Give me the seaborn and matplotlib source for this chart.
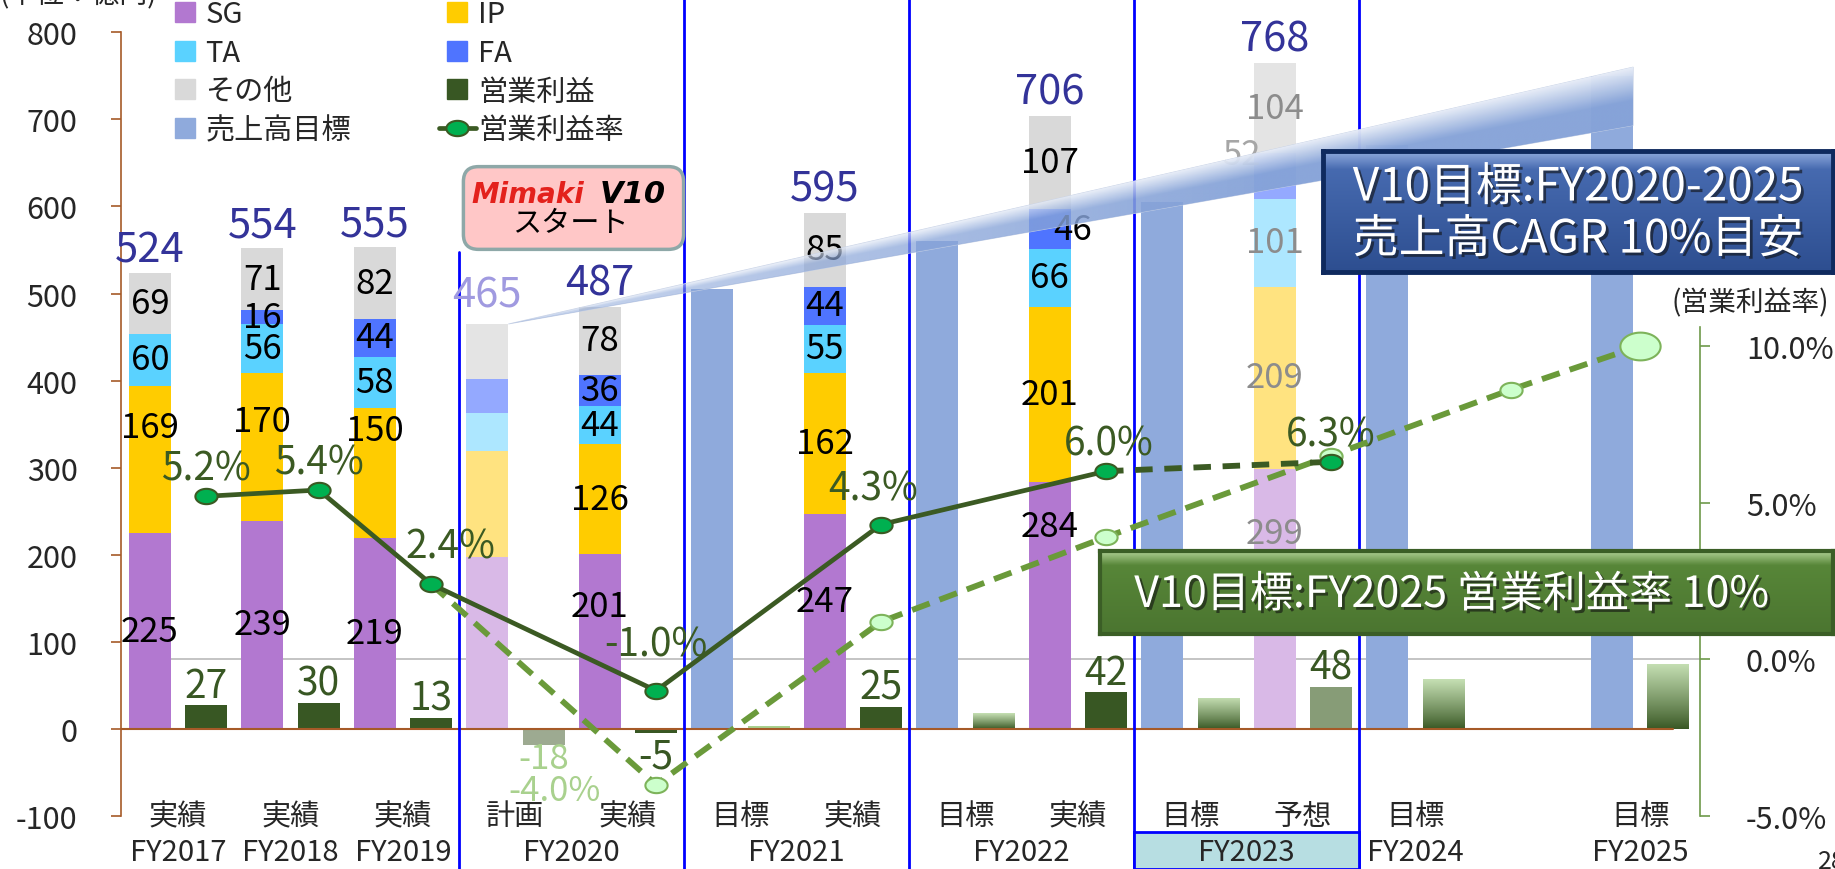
import matplotlib.pyplot as plt
import matplotlib.patheffects as pe
import numpy as np
import pandas as pd
import seaborn as sns
from matplotlib import transforms
from matplotlib.colors import to_rgb
from matplotlib.lines import Line2D
from matplotlib.patches import FancyBboxPatch, Polygon, Rectangle
from matplotlib.path import Path

# ---------------- data (億円 / %) ----------------
slot_labels = ["実績", "実績", "実績", "計画", "実績", "目標", "実績",
               "目標", "実績", "目標", "予想", "目標", "", "目標"]
year_labels = ["FY2017", "FY2018", "FY2019", "FY2020", "FY2021",
               "FY2022", "FY2023", "FY2024", "FY2025"]
year_first_slot = [0, 1, 2, 3, 5, 7, 9, 11, 13]
year_last_slot = [0, 1, 2, 4, 6, 8, 10, 11, 13]

seg_slots = [0, 1, 2, 3, 4, 6, 8, 10]
seg_status = ["実績", "実績", "実績", "計画", "実績", "実績", "実績", "予想"]
sg = [225, 239, 219, 197, 201, 247, 284, 299]
ip = [169, 170, 150, 122, 126, 162, 201, 209]
ta = [60, 56, 58, 44, 44, 55, 66, 101]
fa = [0, 16, 44, 39, 36, 44, 46, 52]
other = [69, 71, 82, 63, 78, 85, 107, 104]
sales_total = [524, 554, 555, 465, 487, 595, 706, 768]

target_slots = [5, 7, 9, 11, 13]
sales_target = [505, 560, 605, 670, 750]

profit_slots = [0, 1, 2, 3, 4, 5, 6, 7, 8, 9, 10, 11, 13]
profit_status = ["実績", "実績", "実績", "計画", "実績", "目標", "実績",
                 "目標", "実績", "目標", "予想", "目標", "目標"]
profit = [27, 30, 13, -18, -5, 3, 25, 18, 42, 36, 48, 57, 75]

rate_slots = [0, 1, 2, 4, 6, 8]
rate = [5.2, 5.4, 2.4, -1.0, 4.3, 6.0]
rate_fcst_slots = [8, 10]
rate_fcst = [6.0, 6.3]
rate_tgt_slots = [2, 4, 6, 8, 10, 12, 13]
rate_tgt = [2.4, -4.0, 1.2, 3.9, 6.5, 8.6, 10.0]

# V10 growth ribbon: from the FY2020 plan bar top to the FY2025 target
arrow_end_top = 760
arrow_end_bottom = 693

# ---------------- layout / style ----------------
BAR_W = 0.373
OFF = 0.25
tgt_dx = [OFF, OFF, OFF, OFF, OFF, -0.15, 0.0]
rate_label_off = [(0, 20), (0, 20), (14, 27), (0, 33), (-6, 26), (2, 20)]
seg_label_y = {(0, "IP"): 346, (1, "IP"): 353, (2, "IP"): 343, (4, "SG"): 141,
               (6, "SG"): 146, (8, "SG"): 233, (10, "SG"): 225, (10, "FA"): 660}
seg_label_dx = {(8, "FA"): 0.2, (10, "FA"): -0.3}
profit_label_dy = {3: -10, 4: -17}

seg_names = ["SG", "IP", "TA", "FA", "その他"]
seg_colors = {"SG": "#B278D0", "IP": "#FFCC00", "TA": "#5AD2FF",
              "FA": "#4F74FF", "その他": "#D9D9D9"}
seg_pale = {"SG": "#D9B9E7", "IP": "#FFE380", "TA": "#ADE7FF",
            "FA": "#94A9FF", "その他": "#E4E4E4"}
TARGET_BLUE = "#8FAADC"
PROFIT_DARK = "#385723"
LINE_DARK = "#3B5A23"
TGT_GREEN = "#6A9A3A"
LIGHT_GREEN = "#A9D18E"
BROWN = "#A65A28"
AXIS_GREEN = "#6E9A4A"
TOTAL_BLUE = "#333399"


def gradient_fill(ax, patch, extent, top_c, bot_c, power=1.0, zorder=2):
    t = np.linspace(0, 1, 256)[:, None] ** power
    c0 = np.array(to_rgb(bot_c))
    c1 = np.array(to_rgb(top_c))
    img = c0 + (c1 - c0) * t[..., None]
    im = ax.imshow(img, extent=extent, origin="lower", aspect="auto",
                   interpolation="bilinear", zorder=zorder)
    im.set_clip_path(patch)
    return im


def main():
    sns.set_style("white")
    plt.rcParams["font.family"] = ["Noto Sans CJK JP", "DejaVu Sans"]
    plt.rcParams["axes.unicode_minus"] = False

    fig = plt.figure(figsize=(18.35, 8.7), dpi=100)
    ax = fig.add_axes([0.0657, 0.0608, 0.9264 - 0.0657, 0.9618 - 0.0608])
    ax.patch.set_alpha(0)
    xmin, xmax = -0.511, 13.53

    # ----- stacked segment sales -----
    df = pd.DataFrame({"slot": seg_slots, "status": seg_status, "SG": sg, "IP": ip,
                       "TA": ta, "FA": fa, "その他": other, "total": sales_total})
    xs = df["slot"].to_numpy() - OFF
    bottom = np.zeros(len(df))
    for name in seg_names:
        vals = df[name].to_numpy()
        cols = [seg_colors[name] if s == "実績" else seg_pale[name] for s in df["status"]]
        ax.bar(xs, vals, BAR_W, bottom=bottom, color=cols, linewidth=0, zorder=2)
        for i in range(len(df)):
            v, s, slot = vals[i], df["status"][i], df["slot"][i]
            if v == 0 or s == "計画":
                continue
            key = (slot, name)
            y = seg_label_y.get(key, bottom[i] + v / 2)
            col = "black" if s == "実績" else ("#A6A6A6" if name == "FA" else "#8C8C8C")
            ax.text(xs[i] + seg_label_dx.get(key, 0), y, str(v), ha="center",
                    va="center", fontsize=25, color=col, zorder=4)
        bottom += vals

    for i in range(len(df)):
        plan = df["status"][i] == "計画"
        ax.annotate(str(df["total"][i]), (xs[i], bottom[i]),
                    xytext=(0, 21 if plan else 17), textcoords="offset points",
                    ha="center", va="center", fontsize=30,
                    color="#A09AE0" if plan else TOTAL_BLUE, zorder=4)

    # ----- sales targets -----
    ax.bar(np.array(target_slots) - OFF, sales_target, BAR_W, color=TARGET_BLUE,
           linewidth=0, zorder=2)

    # ----- operating profit -----
    for slot, st, v in zip(profit_slots, profit_status, profit):
        x = slot + OFF
        if st == "目標":
            if v < 10:
                ax.bar(x, v, BAR_W, color=LIGHT_GREEN, linewidth=0, zorder=2)
            else:
                bar = ax.bar(x, v, BAR_W, color="none", linewidth=0, zorder=2)[0]
                gradient_fill(ax, bar, [x - BAR_W / 2, x + BAR_W / 2, 0, v],
                              "#C6E0B4", PROFIT_DARK, power=0.9)
            continue
        color = {"実績": PROFIT_DARK, "計画": "#9DAA91", "予想": "#879C77"}[st]
        ax.bar(x, v, BAR_W, color=color, linewidth=0, zorder=2)
        dy = profit_label_dy.get(slot, 14)
        ax.annotate(str(v), (x, v), xytext=(0, dy), textcoords="offset points",
                    ha="center", va="center", fontsize=25 if st == "計画" else 28,
                    color=LIGHT_GREEN if st == "計画" else PROFIT_DARK, zorder=4)

    # ----- V10 growth ribbon -----
    i_plan = seg_status.index("計画")
    x0 = seg_slots[i_plan] - OFF + BAR_W / 2
    x1 = target_slots[-1] - OFF + BAR_W / 2
    y0 = sales_total[i_plan]
    gx, gy = np.meshgrid(np.linspace(x0, x1, 500), np.linspace(y0, arrow_end_top, 300))
    u = (gx - x0) / (x1 - x0)
    top = y0 + u * (arrow_end_top - y0)
    bot = y0 + u * (arrow_end_bottom - y0)
    v = np.clip((top - gy) / np.maximum(top - bot, 1e-6), 0, 1)
    w = np.clip(0.2 + 1.4 * v, 0, 1)[..., None]
    rgb = np.ones(3) * (1 - w) + np.array(to_rgb("#86A3D8")) * w
    alpha = np.clip(0.45 + 0.75 * u, 0, 0.97)[..., None]
    ribbon = Polygon([(x0, y0), (x1, arrow_end_top), (x1, arrow_end_bottom)],
                     closed=True, facecolor="none", edgecolor="#C8D2E6", lw=0.6, zorder=6)
    ax.add_patch(ribbon)
    im = ax.imshow(np.concatenate([rgb, alpha], axis=2),
                   extent=[x0, x1, y0, arrow_end_top], origin="lower", aspect="auto",
                   interpolation="bilinear", zorder=6)
    im.set_clip_path(ribbon)

    # ----- axes cosmetics -----
    ax.axhline(0, xmin=0, xmax=0.983, color=BROWN, lw=1.5, zorder=3)
    ax.set_xlim(xmin, xmax)
    ax.set_ylim(-100, 800)
    ax.set_xticks([])
    ax.set_yticks(np.arange(-100, 801, 100))
    ax.tick_params(axis="y", left=True, length=7, width=1.2, color=BROWN,
                   pad=24, labelsize=22)
    for side in ["top", "right", "bottom"]:
        ax.spines[side].set_visible(False)
    ax.spines["left"].set_color(BROWN)
    ax.spines["left"].set_linewidth(1.2)

    ax2 = ax.twinx()
    ax2.set_ylim(-5, 20)
    ax2.set_xlim(xmin, xmax)

    # 0% reference line, drawn under the bars
    ax.plot([-0.1, xmax], [0, 0], transform=ax2.transData, color="#BFBFBF",
            lw=1.3, zorder=1, clip_on=False)

    theta = np.linspace(0, 2 * np.pi, 61)
    ellipse = Path(np.column_stack([1.45 * np.cos(theta), np.sin(theta)]), closed=True)

    # target profit rate (dashed light green)
    tx = np.array(rate_tgt_slots) + np.array(tgt_dx)
    ax2.plot(tx, rate_tgt, color=TGT_GREEN, lw=4.2, dashes=(3.2, 1.8),
             marker=ellipse, ms=16, mfc="#CCFFCC", mec="#7DB35A", mew=1.5,
             markevery=list(range(1, len(tx) - 1)), zorder=4)
    ax2.plot(tx[-1], rate_tgt[-1], marker=ellipse, ms=29, mfc="#CCFFCC",
             mec="#7DB35A", mew=1.5, ls="none", zorder=4)
    ax2.annotate(f"{rate_tgt[1]:.1f}%", (tx[1], rate_tgt[1]), xytext=(-73, -4),
                 textcoords="offset points", ha="center", va="center",
                 fontsize=25, color=LIGHT_GREEN)

    # forecast segment (dashed dark)
    fx = np.array(rate_fcst_slots) + OFF
    ax2.plot(fx, rate_fcst, color=LINE_DARK, lw=4.2, dashes=(3, 2), zorder=5)
    ax2.plot(fx[-1], rate_fcst[-1], marker=ellipse, ms=16, mfc="#00B050",
             mec=LINE_DARK, mew=1.5, ls="none", zorder=6)
    ax2.annotate(f"{rate_fcst[-1]:.1f}%", (fx[-1], rate_fcst[-1]), xytext=(0, 20),
                 textcoords="offset points", ha="center", va="center",
                 fontsize=28, color=LINE_DARK)

    # actual profit rate (solid)
    rate_df = pd.DataFrame({"x": np.array(rate_slots) + OFF, "rate": rate})
    sns.lineplot(data=rate_df, x="x", y="rate", ax=ax2, color=LINE_DARK,
                 linewidth=3.4, marker=ellipse, markersize=16,
                 markerfacecolor="#00B050", markeredgecolor=LINE_DARK,
                 markeredgewidth=1.5, zorder=6, legend=False)
    for xv, rv, off in zip(rate_df["x"], rate, rate_label_off):
        ax2.annotate(f"{rv:.1f}%", (xv, rv), xytext=off, textcoords="offset points",
                     ha="center", va="center", fontsize=28, color=LINE_DARK, zorder=7)

    ax2.set_xlabel("")
    ax2.set_ylabel("")
    ax2.set_xlim(xmin, xmax)
    ax2.set_ylim(-5, 20)
    ax2.set_yticks([-5, 0, 5, 10])
    ax2.set_yticklabels([f"{t:.1f}%" for t in [-5, 0, 5, 10]])
    ax2.tick_params(axis="y", right=True, length=7, width=1.2, color=AXIS_GREEN,
                    pad=26, labelsize=22)
    for side in ["top", "left", "bottom"]:
        ax2.spines[side].set_visible(False)
    ax2.spines["right"].set_color(AXIS_GREEN)
    ax2.spines["right"].set_linewidth(1.2)
    ax2.spines["right"].set_bounds(-5, 10.6)

    # ----- category labels, separators, FY2023 highlight -----
    bt = transforms.blended_transform_factory(ax.transData, fig.transFigure)
    for s, lab in enumerate(slot_labels):
        if lab:
            ax.text(s, 0.061, lab, transform=bt, ha="center", va="center", fontsize=21)
    for lab, a, b in zip(year_labels, year_first_slot, year_last_slot):
        ax.text((a + b) / 2, 0.0195, lab, transform=bt, ha="center", va="center",
                fontsize=21, zorder=5)
    sep_x = [2.5, 4.5, 6.5, 8.5, 10.5]
    for sx in sep_x:
        y_top = 0.709 if sx == sep_x[0] else 1.0
        ax.plot([sx, sx], [0, y_top], transform=bt, color="#0000FF", lw=2,
                zorder=3, clip_on=False)
    i23 = year_labels.index("FY2023")
    ax.add_patch(Rectangle((year_first_slot[i23] - 0.5, 0), 2.0, 0.0425, transform=bt,
                           facecolor="#B7DEE2", edgecolor="#0000FF", lw=2,
                           clip_on=False, zorder=4))

    # ----- legend -----
    leg_items = [("SG", seg_colors["SG"]), ("TA", seg_colors["TA"]),
                 ("その他", seg_colors["その他"]), ("売上高目標", TARGET_BLUE),
                 ("IP", seg_colors["IP"]), ("FA", seg_colors["FA"]),
                 ("営業利益", PROFIT_DARK)]
    handles = [Line2D([], [], ls="none", marker="s", ms=14, mfc=c, mec=c)
               for _, c in leg_items]
    handles.append(Line2D([], [], color=LINE_DARK, lw=3.4, marker=ellipse, ms=16,
                          mfc="#00B050", mec=LINE_DARK, mew=1.5))
    labels = [n for n, _ in leg_items] + ["営業利益率"]
    fig.legend(handles, labels, ncol=2, loc="upper left",
               bbox_to_anchor=(166 / 1835, 1.0), frameon=False, fontsize=21,
               handlelength=1.3, handletextpad=0.05, columnspacing=3.0,
               labelspacing=0.3, borderpad=0, borderaxespad=0)

    # ----- texts around the frame -----
    fig.text(0.0, 1 - 3 / 870, "(単位：億円)", ha="left", va="baseline", fontsize=20)
    fig.text(0.997, 1 - 303 / 870, "(営業利益率)", ha="right", va="center", fontsize=20)
    fig.text(1818 / 1835, 1 - 862 / 870, "28", ha="left", va="center", fontsize=18)

    # ----- Mimaki V10 start badge -----
    mx = fig.add_axes([460 / 1835, 1 - 253 / 870, 227 / 1835, 88 / 870])
    mx.set_axis_off()
    mx.add_patch(FancyBboxPatch((0.015, 0.03), 0.97, 0.94,
                                boxstyle="round,pad=0,rounding_size=0.066",
                                mutation_aspect=2.58, facecolor="#FFC7C7",
                                edgecolor="#8EA8A8", lw=2.5))
    mx.text(0.30, 0.66, "Mimaki", color="#E3211C", fontsize=20, fontweight="bold",
            fontstyle="italic", family="DejaVu Sans", ha="center", va="center")
    mx.text(0.76, 0.66, "V10", color="black", fontsize=22, fontweight="bold",
            fontstyle="italic", family="DejaVu Sans", ha="center", va="center")
    mx.text(0.485, 0.33, "スタート", color="black", fontsize=21, ha="center", va="center")

    shadow = [pe.withSimplePatchShadow(offset=(2, -2), shadow_rgbFace="#111111", alpha=0.6)]

    # ----- CAGR callout -----
    bx = fig.add_axes([1323 / 1835, 1 - 273 / 870, 510 / 1835, 121 / 870])
    t = np.linspace(0, 1, 200)[:, None]
    base = np.array(to_rgb("#2D4E90")) + (np.array(to_rgb("#4B6FB5")) - np.array(to_rgb("#2D4E90"))) * t
    hi = np.clip((t - 0.85) / 0.15, 0, 1)
    grad = base + (np.array(to_rgb("#8FAADC")) - base) * hi
    bx.imshow(grad[:, None, :], extent=[0, 1, 0, 1], origin="lower", aspect="auto")
    bx.set_xlim(0, 1)
    bx.set_ylim(0, 1)
    bx.set_xticks([])
    bx.set_yticks([])
    for sp in bx.spines.values():
        sp.set_color("#0F2A5E")
        sp.set_linewidth(3.5)
    bx.text(0.5, 0.70, "V10目標:FY2020-2025", color="white", fontsize=33,
            ha="center", va="center", path_effects=shadow)
    bx.text(0.5, 0.27, "売上高CAGR 10%目安", color="white", fontsize=33,
            ha="center", va="center", path_effects=shadow)

    # ----- operating margin callout -----
    gx_ax = fig.add_axes([1100 / 1835, 1 - 635 / 870, 733 / 1835, 83 / 870])
    base = np.array(to_rgb("#4B7530")) + (np.array(to_rgb("#5A8A3A")) - np.array(to_rgb("#4B7530"))) * t
    hi = np.clip((t - 0.82) / 0.18, 0, 1)
    grad = base + (np.array(to_rgb("#B5D49A")) - base) * hi
    gx_ax.imshow(grad[:, None, :], extent=[0, 1, 0, 1], origin="lower", aspect="auto")
    gx_ax.set_xlim(0, 1)
    gx_ax.set_ylim(0, 1)
    gx_ax.set_xticks([])
    gx_ax.set_yticks([])
    for sp in gx_ax.spines.values():
        sp.set_color("#3B5E26")
        sp.set_linewidth(3)
    gx_ax.text(0.479, 0.47, "V10目標:FY2025 営業利益率 10%", color="white",
               fontsize=31, ha="center", va="center", path_effects=shadow)

    ax.set_xlim(xmin, xmax)
    ax.set_ylim(-100, 800)
    fig.savefig("out.png", dpi=100)
    plt.close(fig)


if __name__ == "__main__":
    main()
